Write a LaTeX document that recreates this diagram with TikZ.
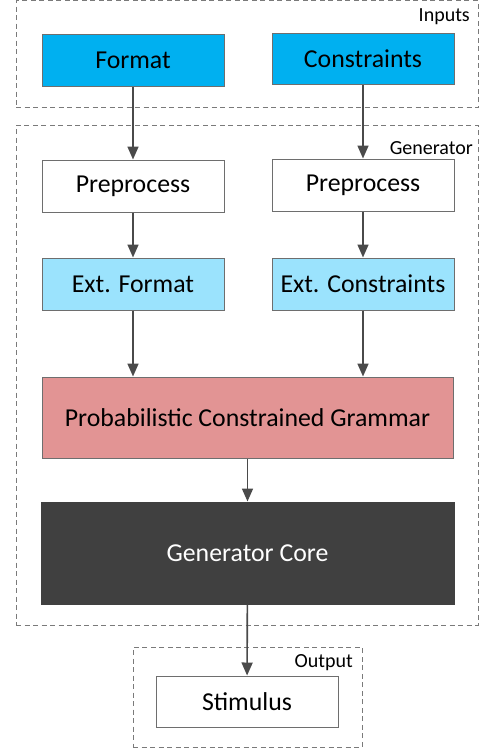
\documentclass[tikz,border=0pt]{standalone}
\usepackage{fontspec}
\setmainfont{Carlito}
\usetikzlibrary{arrows.meta}
\definecolor{cblue}{HTML}{00B0F0}
\definecolor{clight}{HTML}{9BE3FD}
\definecolor{cred}{HTML}{E29494}
\definecolor{cdark}{HTML}{404040}
\definecolor{cline}{HTML}{4A4A4A}
\definecolor{cborder}{HTML}{6E6E6E}
\definecolor{cdash}{HTML}{7A7A7A}
\begin{document}
\begin{tikzpicture}[x=1pt,y=-1pt,
  box/.style={draw=cborder,line width=1pt,inner sep=0pt,font=\fontsize{25.8}{30}\selectfont,text=black},
  grp/.style={draw=cdash,line width=1pt,dash pattern=on 5pt off 3.5pt,inner sep=0pt},
  lbl/.style={anchor=east,inner sep=0pt,font=\fontsize{20}{24}\selectfont},
  arr/.style={draw=cline,line width=1.6pt,-{Triangle[length=13pt,width=11pt]}}]
\useasboundingbox (0,0) rectangle (480,750);
% groups
\node[grp,minimum width=462pt,minimum height=107pt] (ginp) at (247,54) {};
\node[grp,minimum width=462pt,minimum height=500pt] (ggen) at (247,375) {};
\node[grp,minimum width=229pt,minimum height=100pt] (gout) at (247.5,697) {};
\node[lbl] (linp) at (470,17) {Inputs};
\node[lbl] (lgen) at (473,148) {Generator};
\node[lbl] (lout) at (353,663) {Output};
% boxes
\node[box,fill=cblue,minimum width=182pt,minimum height=52pt] (fmt) at (133,60) {Format};
\node[box,fill=cblue,minimum width=182pt,minimum height=51pt] (con) at (363,58.5) {Constraints};
\node[box,fill=white,minimum width=182pt,minimum height=52pt] (ppl) at (133,186) {Preprocess};
\node[box,fill=white,minimum width=182pt,minimum height=52pt] (ppr) at (363,185) {Preprocess};
\node[box,fill=clight,minimum width=182pt,minimum height=52pt] (exf) at (133,284) {Ext. Format};
\node[box,fill=clight,minimum width=182pt,minimum height=52pt] (exc) at (363,284) {Ext. Constraints};
\node[box,fill=cred,minimum width=411pt,minimum height=81pt] (pcg) at (247.5,417.5) {Probabilistic Constrained Grammar};
\node[box,draw=cdark,fill=cdark,text=white,minimum width=413pt,minimum height=102pt] (core) at (247.5,553) {Generator Core};
\node[box,fill=white,minimum width=182pt,minimum height=51pt] (stim) at (247,701.5) {Stimulus};
% arrows
\draw[arr] (fmt) -- (ppl);
\draw[arr] (con) -- (ppr);
\draw[arr] (ppl) -- (exf);
\draw[arr] (ppr) -- (exc);
\draw[arr] (exf.south) -- (exf.south |- pcg.north);
\draw[arr] (exc.south) -- (exc.south |- pcg.north);
\draw[arr] (pcg) -- (core);
\draw[arr] (core) -- (stim);
\end{tikzpicture}
\end{document}
